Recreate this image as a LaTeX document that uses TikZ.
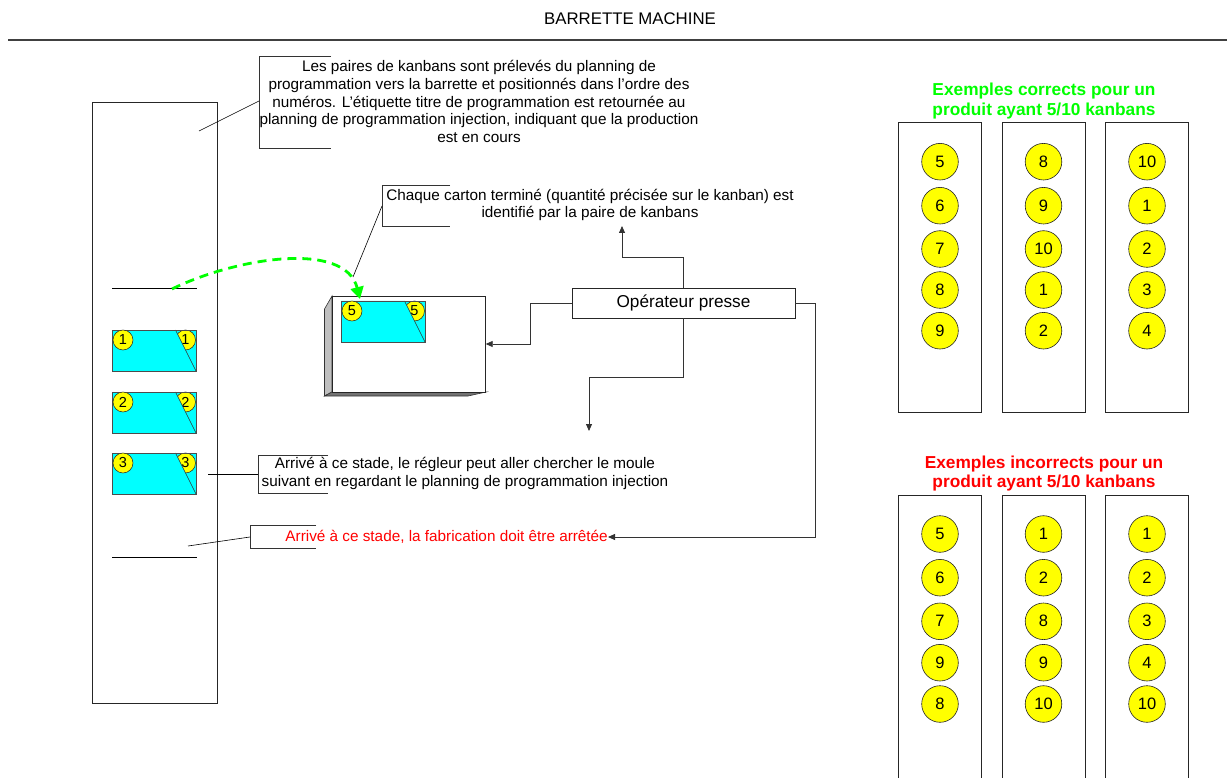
\documentclass[tikz,border=0pt]{standalone}
\usepackage{fontspec}
\setmainfont{Liberation Sans}
\usetikzlibrary{arrows.meta}
\definecolor{kcyan}{HTML}{00FFFF}
\definecolor{kyellow}{HTML}{FFFF00}
\definecolor{kgreen}{HTML}{00FF00}
\definecolor{kred}{HTML}{FF0000}
\newcommand\kcard[4]{%
 \begin{scope}[shift={(#2,#3)}]
  \fill[kcyan] (0,0) rectangle (84,41);
  \node[sball] (#1b) at (73.5,10) {#4};
  \fill[kcyan] (0,0) -- (63.5,0) -- (84,41) -- (0,41) -- cycle;
  \draw[black!80, line width=0.6pt] (63.5,0) -- (84,41);
  \node[draw=black!70, line width=0.9pt, inner sep=0pt, outer sep=0pt, minimum width=84pt, minimum height=41pt] (#1) at (42,20.5) {};
  \node[sball] (#1a) at (11,10) {#4};
 \end{scope}}
\begin{document}
\begin{tikzpicture}[x=1pt,y=-1pt,
  box/.style={draw=black!85, line width=0.8pt, fill=white, inner sep=0pt, outer sep=0pt},
  ball/.style={circle, draw=black!85, line width=0.6pt, fill=kyellow, inner sep=0pt, minimum size=36.6pt, font=\fontsize{16.5}{16.5}\selectfont},
  sball/.style={circle, draw=black!85, line width=0.5pt, fill=kyellow, inner sep=0pt, minimum size=20pt, font=\fontsize{14.5}{14.5}\selectfont},
  txt/.style={align=center, font=\fontsize{15.3}{17.6}\selectfont, inner sep=0pt},
  bracket/.style={draw=black!80, line width=0.8pt},
  leader/.style={draw=black, line width=0.6pt},
  conn/.style={draw=black!80, line width=0.8pt, -{Triangle[length=7pt,width=6pt]}},
  gtitle/.style={align=center, font=\fontsize{17.3}{19.5}\selectfont\bfseries, inner sep=0pt},
]
\useasboundingbox (0,0) rectangle (1227,778);
\fill[white] (0,0) rectangle (1227,778);

% title
\node[font=\fontsize{16.8}{19}\selectfont, inner sep=0pt] (title) at (630,19) {BARRETTE MACHINE};
\draw[line width=1.2pt, black!75] (8,40) -- (1227,40);

% barrette
\node[box, minimum width=125pt, minimum height=601pt] (bar) at (154.5,402.5) {};
\draw[line width=0.8pt] (112,288) coordinate (l1a) -- (197,288) coordinate (l1b);
\draw[line width=0.8pt] (112,557) coordinate (l2a) -- (197,557) coordinate (l2b);
\kcard{ka}{112}{330}{1}
\kcard{kb}{112}{392}{2}
\kcard{kc}{112}{453}{3}

% carton 3D
\filldraw[fill=black!25, draw=black!80, line width=0.6pt] (332,296) -- (324.5,309) -- (324.5,396) -- (332,392) -- cycle;
\filldraw[fill=black!55, draw=black!80, line width=0.6pt] (332,392) -- (324.5,396) -- (468,396) -- (486,392) -- cycle;
\node[box, minimum width=153.7pt, minimum height=96pt] (carton) at (408.85,344) {};
\kcard{kd}{341}{301}{5}

% green dashed arrow
\coordinate (gs) at (172,289);
\coordinate (gt) at (360,299);
\draw[kgreen, line width=2.8pt, dash pattern=on 9pt off 6pt, -{Triangle[length=12pt,width=13pt]}] (gs) .. controls (235,258) and (345,240) .. (gt);

% callout 1
\node[txt] (t1) at (479,101.5) {Les paires de kanbans sont prélevés du planning de\\programmation vers la barrette et positionnés dans l'ordre des\\numéros. L'étiquette titre de programmation est retournée au\\planning de programmation injection, indiquant que la production\\est en cours};
\draw[bracket] (331,56) -- (259,56) -- (259,148) -- (331,148);
\coordinate (b1) at (259,101);
\coordinate (a1) at (199,131);
\draw[leader] (a1) -- (b1);

% callout 2
\node[txt] (t2) at (590,205) {Chaque carton terminé (quantité précisée sur le kanban) est\\identifié par la paire de kanbans};
\draw[bracket] (450,185) -- (382,185) -- (382,226) -- (450,226);
\coordinate (b2) at (382,206);
\coordinate (a2) at (353,277);
\draw[leader] (b2) -- (a2);

% callout 3
\node[txt] (t3) at (465,473.5) {Arrivé à ce stade, le régleur peut aller chercher le moule\\suivant en regardant le planning de programmation injection};
\draw[bracket] (328,455) -- (258,455) -- (258,493) -- (328,493);
\coordinate (b3) at (258,474);
\coordinate (a3) at (208,474);
\draw[leader] (a3) -- (b3);

% callout 4
\node[txt, text=kred, anchor=east] (t4) at (608,537) {Arrivé à ce stade, la fabrication doit être arrêtée};
\draw[bracket] (316,525) -- (250,525) -- (250,548) -- (316,548);
\coordinate (b4) at (250,537);
\coordinate (a4) at (188,546);
\draw[leader] (a4) -- (b4);

% operateur
\node[box, minimum width=223pt, minimum height=30pt, font=\fontsize{17.2}{17.2}\selectfont] (op) at (683.5,303) {Opérateur presse};
\coordinate (upend) at (622,226);
\coordinate (downend) at (589,431);
\draw[conn] (op.north) |- (622,257) -- (upend);
\draw[conn] (op.west) -- (530,303) |- (carton.east);
\draw[conn] (op.south) |- (589,377) -- (downend);
\draw[conn] (op.east) -- (815,303) -- (815,537) -- (t4.east);

% correct examples
\node[gtitle, text=kgreen] (gt1) at (1044,101) {Exemples corrects pour un\\produit ayant 5/10 kanbans};
\node[box, minimum width=83.4pt, minimum height=289.6pt] (c1) at (940,267.5) {};
\node[box, minimum width=83pt, minimum height=289.6pt] (c2) at (1043.5,267.5) {};
\node[box, minimum width=82.6pt, minimum height=289.6pt] (c3) at (1147,267.5) {};
\foreach \n/\y [count=\i] in {5/161.7,6/205.7,7/249,8/290,9/330.7} \node[ball] (ca\i) at (940,\y) {\n};
\foreach \n/\y [count=\i] in {8/161.7,9/205.7,10/249,1/290,2/330.7} \node[ball] (cb\i) at (1043.5,\y) {\n};
\foreach \n/\y [count=\i] in {10/161.7,1/205.7,2/249,3/290,4/330.7} \node[ball] (cc\i) at (1147,\y) {\n};

% incorrect examples
\node[gtitle, text=kred] (rt1) at (1044,473.5) {Exemples incorrects pour un\\produit ayant 5/10 kanbans};
\node[box, minimum width=83.4pt, minimum height=310pt] (d1) at (940,650) {};
\node[box, minimum width=83pt, minimum height=310pt] (d2) at (1043.5,650) {};
\node[box, minimum width=82.6pt, minimum height=310pt] (d3) at (1147,650) {};
\foreach \n/\y [count=\i] in {5/534,6/577.7,7/621.3,9/662.7,8/704} \node[ball] (da\i) at (940,\y) {\n};
\foreach \n/\y [count=\i] in {1/534,2/577.7,8/621.3,9/662.7,10/704} \node[ball] (db\i) at (1043.5,\y) {\n};
\foreach \n/\y [count=\i] in {1/534,2/577.7,3/621.3,4/662.7,10/704} \node[ball] (dc\i) at (1147,\y) {\n};
\end{tikzpicture}
\end{document}
